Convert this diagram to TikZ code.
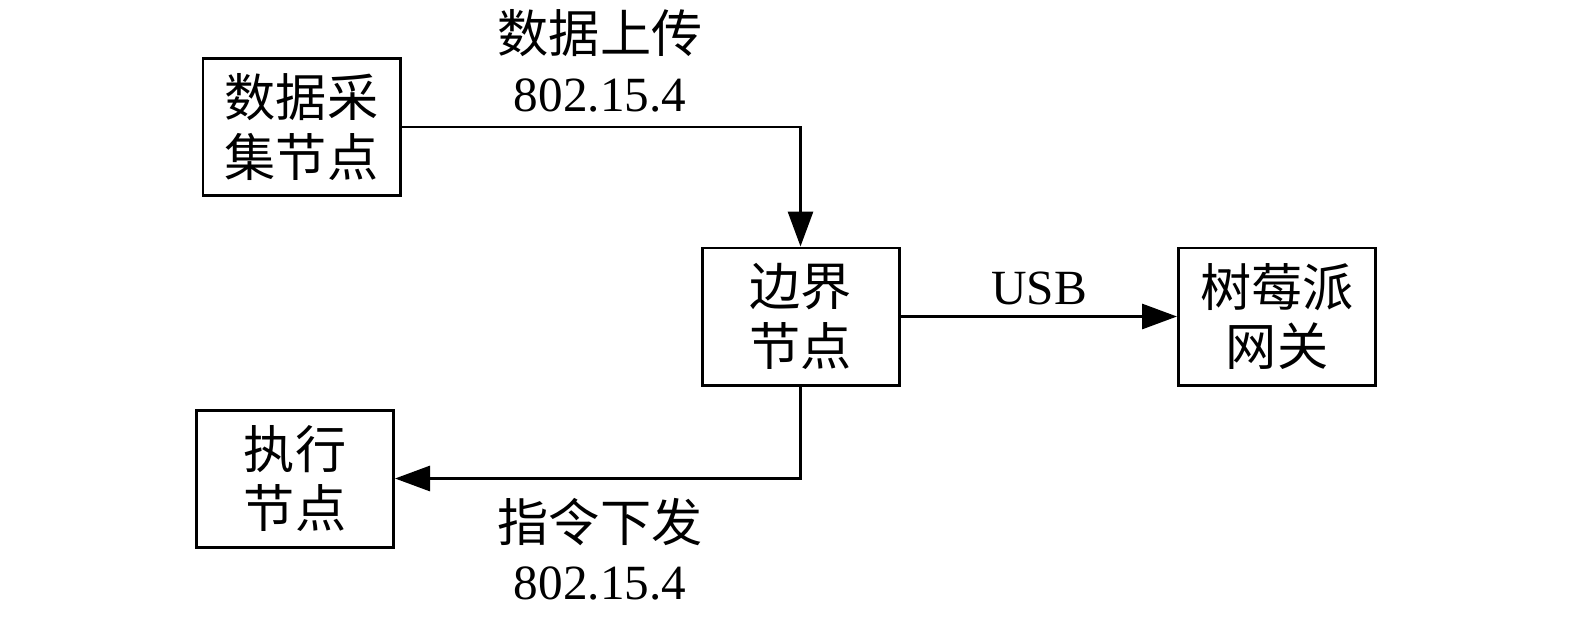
\documentclass[tikz,border=0pt]{standalone}
\usepackage{fontspec}
\setmainfont{Liberation Serif}
\newfontfamily\cjk[Scale=1.04]{Noto Sans CJK SC}
\usetikzlibrary{arrows.meta,positioning}

\tikzset{
  nodebox/.style={draw, line width=1.7pt, minimum width=3.94cm, minimum height=2.74cm,
    align=center, inner sep=0pt, font=\fontsize{28}{34}\selectfont\cjk},
  link/.style={line width=1.7pt, -{Triangle[length=7mm,width=5mm]}},
  tag/.style={align=center, inner sep=0pt, font=\fontsize{28}{34}\selectfont}
}

\begin{document}
\begin{tikzpicture}
    \useasboundingbox (0,0) rectangle (31.5,-12.44);

    % Nodes
    \node[nodebox] (collect) at (6.03,-2.54) {数据采\\集节点};
    \node[nodebox] (border) at (16.01,-6.33) {边界\\节点};
    \node[nodebox] (gateway) at (25.54,-6.33) {树莓派\\网关};
    \node[nodebox] (actuator) at (5.9,-9.57) {执行\\节点};

    % Uplink
    \draw[link] (collect.east) -| (border.north);
    \node[tag] (uptext) at (12.0,-0.66) {\cjk 数据上传};
    \node[tag] (upproto) at (12.0,-1.9) {802.15.4};

    % USB
    \draw[link] (border.east) -- (gateway.west);
    \node[tag] (usb) at (20.78,-5.76) {USB};

    % Downlink
    \draw[link] (border.south) |- (actuator.east);
    \node[tag] (downtext) at (12.0,-10.44) {\cjk 指令下发};
    \node[tag] (downproto) at (12.0,-11.66) {802.15.4};
\end{tikzpicture}
\end{document}
